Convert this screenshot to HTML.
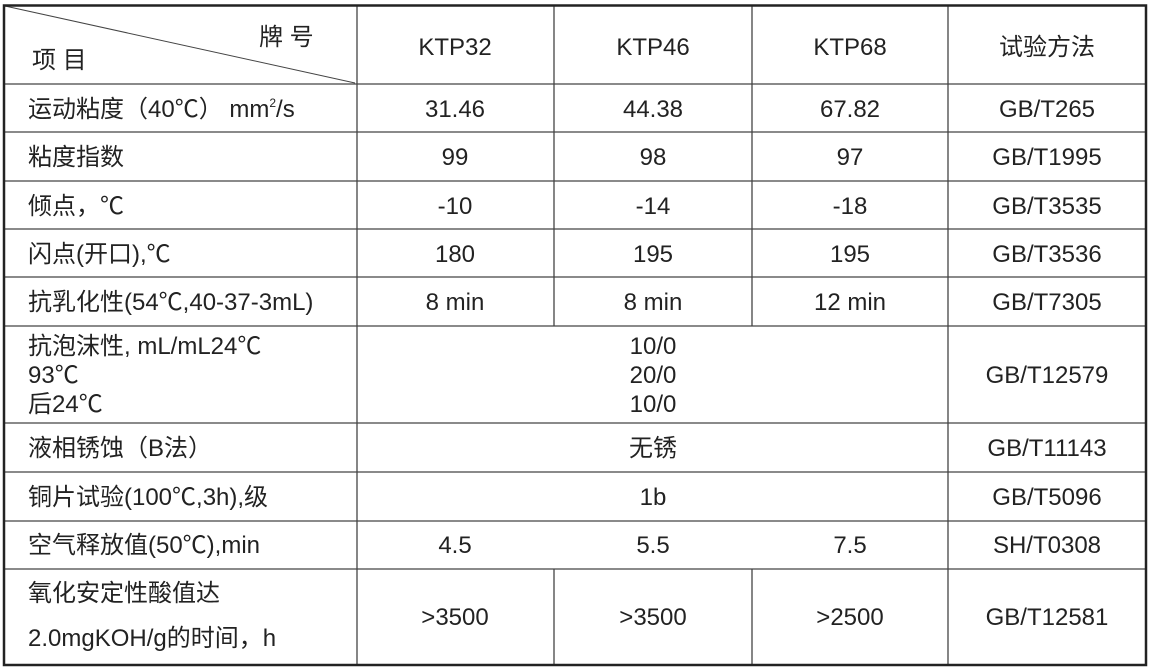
<!DOCTYPE html>
<html><head><meta charset="utf-8"><style>
html,body{margin:0;padding:0;background:#fff;}
svg{display:block;}
text{font-family:"Liberation Sans","Noto Sans CJK SC",sans-serif;font-size:24px;fill:#222;}
.c{text-anchor:middle;}
</style></head><body>
<svg width="1151" height="671" viewBox="0 0 1151 671">
<g stroke="#444" stroke-width="1.3">
<line x1="4" y1="84" x2="1146" y2="84"/>
<line x1="4" y1="132" x2="1146" y2="132"/>
<line x1="4" y1="181" x2="1146" y2="181"/>
<line x1="4" y1="229" x2="1146" y2="229"/>
<line x1="4" y1="277" x2="1146" y2="277"/>
<line x1="4" y1="326" x2="1146" y2="326"/>
<line x1="4" y1="423" x2="1146" y2="423"/>
<line x1="4" y1="472" x2="1146" y2="472"/>
<line x1="4" y1="521" x2="1146" y2="521"/>
<line x1="4" y1="569" x2="1146" y2="569"/>
<line x1="357" y1="5" x2="357" y2="665"/>
<line x1="948" y1="5" x2="948" y2="665"/>
<line x1="554" y1="5" x2="554" y2="326"/>
<line x1="752" y1="5" x2="752" y2="326"/>
<line x1="554" y1="569" x2="554" y2="665"/>
<line x1="752" y1="569" x2="752" y2="665"/>
<line x1="5" y1="6" x2="355" y2="83" stroke-width="1"/>
</g>
<rect x="4" y="5.5" width="1142" height="659.5" fill="none" stroke="#222" stroke-width="2.5"/>
<text x="32" y="68" font-size="25">项 目</text>
<text x="259" y="45" font-size="25">牌 号</text>
<text class="c" x="455" y="55">KTP32</text>
<text class="c" x="653" y="55">KTP46</text>
<text class="c" x="850" y="55">KTP68</text>
<text class="c" x="1047" y="55">试验方法</text>

<text x="28" y="117">运动粘度（40℃） mm<tspan font-size="12" dy="-10">2</tspan><tspan dy="10">/s</tspan></text>
<text class="c" x="455" y="117">31.46</text><text class="c" x="653" y="117">44.38</text><text class="c" x="850" y="117">67.82</text><text class="c" x="1047" y="117">GB/T265</text>

<text x="28" y="165">粘度指数</text>
<text class="c" x="455" y="165">99</text><text class="c" x="653" y="165">98</text><text class="c" x="850" y="165">97</text><text class="c" x="1047" y="165">GB/T1995</text>

<text x="28" y="214">倾点，℃</text>
<text class="c" x="455" y="214">-10</text><text class="c" x="653" y="214">-14</text><text class="c" x="850" y="214">-18</text><text class="c" x="1047" y="214">GB/T3535</text>

<text x="28" y="262">闪点(开口),℃</text>
<text class="c" x="455" y="262">180</text><text class="c" x="653" y="262">195</text><text class="c" x="850" y="262">195</text><text class="c" x="1047" y="262">GB/T3536</text>

<text x="28" y="310">抗乳化性(54℃,40-37-3mL)</text>
<text class="c" x="455" y="310">8 min</text><text class="c" x="653" y="310">8 min</text><text class="c" x="850" y="310">12 min</text><text class="c" x="1047" y="310">GB/T7305</text>

<text x="28" y="354">抗泡沫性, mL/mL24℃</text>
<text x="28" y="383">93℃</text>
<text x="28" y="412">后24℃</text>
<text class="c" x="653" y="354">10/0</text><text class="c" x="653" y="383">20/0</text><text class="c" x="653" y="412">10/0</text>
<text class="c" x="1047" y="383">GB/T12579</text>

<text x="28" y="456">液相锈蚀（B法）</text>
<text class="c" x="653" y="456">无锈</text><text class="c" x="1047" y="456">GB/T11143</text>

<text x="28" y="505">铜片试验(100℃,3h),级</text>
<text class="c" x="653" y="505">1b</text><text class="c" x="1047" y="505">GB/T5096</text>

<text x="28" y="553">空气释放值(50℃),min</text>
<text class="c" x="455" y="553">4.5</text><text class="c" x="653" y="553">5.5</text><text class="c" x="850" y="553">7.5</text><text class="c" x="1047" y="553">SH/T0308</text>

<text x="28" y="601">氧化安定性酸值达</text>
<text x="28" y="646">2.0mgKOH/g的时间，h</text>
<text class="c" x="455" y="625">&gt;3500</text><text class="c" x="653" y="625">&gt;3500</text><text class="c" x="850" y="625">&gt;2500</text><text class="c" x="1047" y="625">GB/T12581</text>
</svg>
</body></html>
